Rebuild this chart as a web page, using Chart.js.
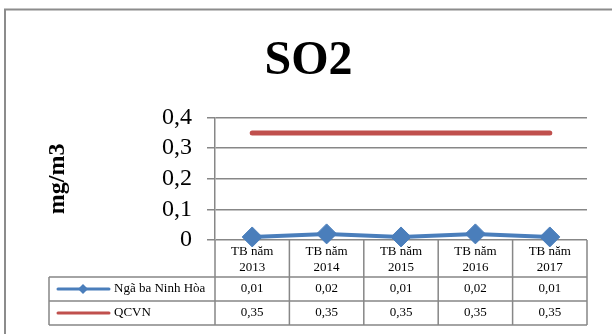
<!DOCTYPE html>
<html>
<head>
<meta charset="utf-8">
<script src="https://cdn.jsdelivr.net/npm/chart.js@4"></script>
<style>
  body { margin: 0; background: #fff; }
  #wrap { width: 612px; height: 334px; }
</style>
</head>
<body>
<div id="wrap"><canvas id="so2Chart" width="612" height="334"></canvas></div>
<script>
// Data
var years = ['2013', '2014', '2015', '2016', '2017'];
var categoryLabels = years.map(function(y) { return ['TB năm', y]; });
var ninhHoa = [0.01, 0.02, 0.01, 0.02, 0.01];
var qcvn = [0.35, 0.35, 0.35, 0.35, 0.35];
var seriesNames = ['Ngã ba Ninh Hòa', 'QCVN'];
var yTicks = [0, 0.1, 0.2, 0.3, 0.4];

var serif = "'Liberation Serif', 'Times New Roman', serif";
var gridGray = '#878787';
var blue = '#4A7EBB';
var red = '#C0504D';

function comma(v) {
    return String(v).replace('.', ',');
}

// outer frame of the chart object (cut off on the right and bottom)
var framePlugin = {
    id: 'frame',
    beforeDraw: function(chart) {
        var ctx = chart.ctx;
        ctx.save();
        ctx.strokeStyle = '#8c8c8c';
        ctx.lineWidth = 2;
        ctx.beginPath();
        ctx.moveTo(5, 334);
        ctx.lineTo(5, 9.5);
        ctx.lineTo(612, 9.5);
        ctx.stroke();
        ctx.restore();
    }
};

// data table under the plot
var dataTablePlugin = {
    id: 'dataTable',
    beforeDatasetsDraw: function(chart) {
        var ctx = chart.ctx;
        var area = chart.chartArea;
        var xs = chart.scales.x;
        var left = area.left, right = area.right;
        var colW = (right - left) / years.length;
        var tableLeft = 49;
        var headerBottom = area.bottom + 37;
        var rowH = 24;
        var rows = [ninhHoa, qcvn];
        var colors = [blue, red];

        ctx.save();
        ctx.strokeStyle = gridGray;
        ctx.lineWidth = 1.5;
        ctx.beginPath();
        for (var i = 0; i <= years.length; i++) {
            var x = left + i * colW;
            ctx.moveTo(x, area.bottom);
            ctx.lineTo(x, headerBottom + rowH * rows.length);
        }
        for (var r = 0; r <= rows.length; r++) {
            var y = headerBottom + r * rowH;
            ctx.moveTo(tableLeft, y);
            ctx.lineTo(right, y);
        }
        ctx.moveTo(tableLeft, headerBottom);
        ctx.lineTo(tableLeft, headerBottom + rowH * rows.length);
        ctx.stroke();

        ctx.font = '13px ' + serif;
        ctx.textBaseline = 'middle';
        rows.forEach(function(vals, r) {
            var cy = headerBottom + r * rowH + rowH / 2;
            // legend key
            ctx.strokeStyle = colors[r];
            ctx.lineWidth = 3;
            ctx.lineCap = 'round';
            ctx.beginPath();
            ctx.moveTo(58, cy);
            ctx.lineTo(109, cy);
            ctx.stroke();
            if (r === 0) {
                ctx.fillStyle = colors[r];
                ctx.beginPath();
                ctx.moveTo(83, cy - 5);
                ctx.lineTo(88, cy);
                ctx.lineTo(83, cy + 5);
                ctx.lineTo(78, cy);
                ctx.closePath();
                ctx.fill();
            }
            ctx.fillStyle = '#000';
            ctx.textAlign = 'left';
            ctx.fillText(seriesNames[r], 114, cy);
            ctx.textAlign = 'center';
            vals.forEach(function(v, i) {
                ctx.fillText(comma(v), xs.getPixelForTick(i), cy);
            });
        });
        ctx.restore();
    }
};

new Chart(document.getElementById('so2Chart'), {
    type: 'line',
    data: {
        labels: categoryLabels,
        datasets: [{
            label: seriesNames[0],
            data: ninhHoa,
            borderColor: blue,
            backgroundColor: blue,
            borderWidth: 4,
            pointStyle: 'rectRot',
            pointRadius: 10,
            pointHoverRadius: 10,
            pointBackgroundColor: blue,
            pointBorderColor: blue,
            pointBorderWidth: 1,
            tension: 0,
            clip: false
        }, {
            label: seriesNames[1],
            data: qcvn,
            borderColor: red,
            backgroundColor: red,
            borderWidth: 5,
            borderCapStyle: 'round',
            pointRadius: 0,
            tension: 0,
            clip: false
        }]
    },
    options: {
        responsive: false,
        animation: false,
        layout: {
            padding: { left: 30, right: 25, top: 0, bottom: 9 }
        },
        plugins: {
            legend: { display: false },
            tooltip: { enabled: false },
            title: {
                display: true,
                text: 'SO2',
                color: '#000',
                font: { family: serif, size: 48, weight: 'bold' },
                padding: { top: 33, bottom: 27 }
            }
        },
        scales: {
            x: {
                offset: true,
                grid: { display: false, drawTicks: false },
                border: { display: false },
                ticks: {
                    color: '#000',
                    font: { family: serif, size: 13 },
                    padding: 4,
                    maxRotation: 0,
                    autoSkip: false
                },
                afterFit: function(scale) {
                    scale.height = 85;
                }
            },
            y: {
                min: 0,
                max: 0.4,
                afterBuildTicks: function(scale) {
                    scale.ticks = yTicks.map(function(v) { return { value: v }; });
                },
                grid: {
                    color: gridGray,
                    lineWidth: 1.5,
                    tickLength: 8
                },
                border: { display: true, color: gridGray, width: 1.5 },
                ticks: {
                    color: '#000',
                    font: { family: serif, size: 24 },
                    padding: 15,
                    autoSkip: false,
                    callback: function(v) { return comma(Math.round(v * 10) / 10); }
                },
                title: {
                    display: true,
                    text: 'mg/m3',
                    color: '#000',
                    font: { family: serif, size: 24, weight: 'bold' },
                    padding: { top: 13, bottom: 0 }
                },
                afterFit: function(scale) {
                    scale.width = 185;
                }
            }
        }
    },
    plugins: [framePlugin, dataTablePlugin]
});
</script>
</body>
</html>
